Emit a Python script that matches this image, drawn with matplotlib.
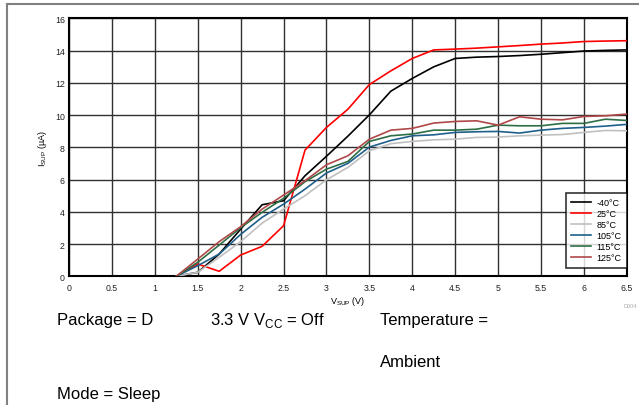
import matplotlib
matplotlib.use('Agg')
import matplotlib.pyplot as plt
from matplotlib.lines import Line2D

plt.rcParams['font.family'] = ['Liberation Sans', 'DejaVu Sans']
plt.rcParams['mathtext.fontset'] = 'custom'
plt.rcParams['mathtext.rm'] = 'Liberation Sans'

# supply voltage (V)
v_sup = [1.25, 1.5, 1.75, 2.0, 2.25, 2.5, 2.75, 3.0, 3.25, 3.5, 3.75, 4.0,
         4.25, 4.5, 4.75, 5.0, 5.25, 5.5, 5.75, 6.0, 6.25, 6.5]

# supply current (uA) per temperature
i_m40 = [0.0, 0.25, 1.38, 2.93, 4.44, 4.69, 6.24, 7.45, 8.7, 10.02, 11.49, 12.28,
         13.0, 13.52, 13.6, 13.64, 13.7, 13.78, 13.88, 13.98, 14.02, 14.05]
i_25 = [0.0, 0.76, 0.31, 1.32, 1.86, 3.14, 7.83, 9.24, 10.37, 11.9, 12.75, 13.52,
        14.05, 14.1, 14.16, 14.24, 14.32, 14.41, 14.48, 14.57, 14.6, 14.62]
i_85 = [0.0, 0.25, 1.18, 2.15, 3.3, 4.17, 5.0, 5.99, 6.76, 7.79, 8.23, 8.37,
        8.47, 8.51, 8.62, 8.64, 8.72, 8.76, 8.80, 8.93, 9.05, 9.03]
i_105 = [0.0, 0.66, 1.38, 2.6, 3.66, 4.48, 5.41, 6.41, 7.01, 8.02, 8.43, 8.72,
         8.78, 8.93, 8.97, 8.99, 8.89, 9.07, 9.18, 9.24, 9.32, 9.43]
i_115 = [0.0, 0.87, 1.94, 3.02, 3.97, 4.84, 5.87, 6.65, 7.13, 8.37, 8.72, 8.83,
         9.07, 9.07, 9.13, 9.38, 9.34, 9.34, 9.49, 9.49, 9.75, 9.67]
i_125 = [0.0, 1.07, 2.15, 3.08, 4.17, 5.04, 5.93, 6.92, 7.48, 8.51, 9.07, 9.18,
         9.51, 9.61, 9.65, 9.38, 9.9, 9.75, 9.71, 9.92, 9.96, 10.07]

labels = ['-40°C', '25°C', '85°C', '105°C', '115°C', '125°C']
colors = ['#000000', '#ff0000', '#c0c0c0', '#1f5f8b', '#2e6e46', '#b04848']
series = [i_m40, i_25, i_85, i_105, i_115, i_125]

x_ticks = [0, 0.5, 1, 1.5, 2, 2.5, 3, 3.5, 4, 4.5, 5, 5.5, 6, 6.5]
y_ticks = [0, 2, 4, 6, 8, 10, 12, 14, 16]

fig = plt.figure(figsize=(6.39, 4.06), dpi=100)
ax = fig.add_axes([0.108, 0.317, 0.873, 0.635])

for ys, c, lab in zip(series, colors, labels):
    ax.plot(v_sup, ys, color=c, lw=1.2, label=lab, zorder=3)

ax.set_xlim(0, 6.5)
ax.set_ylim(0, 16)
ax.set_xticks(x_ticks)
ax.set_xticklabels(['0', '0.5', '1', '1.5', '2', '2.5', '3', '3.5', '4', '4.5',
                    '5', '5.5', '6', '6.5'])
ax.set_yticks(y_ticks)
ax.tick_params(length=0, labelsize=6.3, colors='#222222')
ax.tick_params(axis='y', pad=3)
ax.tick_params(axis='x', pad=5)
ax.grid(True, color='#303030', lw=1.0, zorder=1)
for s in ax.spines.values():
    s.set_linewidth(1.5)
    s.set_color('black')

ax.set_xlabel(r'V$_{\mathregular{SUP}}$ (V)', fontsize=6.5, labelpad=1)
ax.set_ylabel(r'I$_{\mathregular{SUP}}$ (µA)', fontsize=6.5, labelpad=4)

leg = ax.legend(loc='lower right', fontsize=6.5, frameon=True, fancybox=False,
                borderaxespad=0, handlelength=2.2, handletextpad=0.6,
                labelspacing=0.22, borderpad=0.6, bbox_to_anchor=(1.0, 0.033))
leg.get_frame().set_edgecolor('black')
leg.get_frame().set_linewidth(1.2)
leg.set_zorder(5)

fig.text(0.975, 0.242, 'D004', fontsize=4, color='#aaaaaa')

# notes under the chart
fig.text(57 / 639, 1 - 320 / 406, 'Package = D', fontsize=12, va='center')
fig.text(210 / 639, 1 - 320 / 406, r'3.3 V V$_{\mathregular{CC}}$ = Off',
         fontsize=12, va='center')
fig.text(380 / 639, 1 - 320 / 406, 'Temperature =', fontsize=12, va='center')
fig.text(380 / 639, 1 - 363 / 406, 'Ambient', fontsize=12, va='center')
fig.text(57 / 639, 1 - 395 / 406, 'Mode = Sleep', fontsize=12, va='center')

# cell border
fig.add_artist(Line2D([7 / 639, 1.0], [1 - 5 / 406, 1 - 5 / 406],
                      color='#808080', lw=1.5, transform=fig.transFigure))
fig.add_artist(Line2D([7 / 639, 7 / 639], [0, 1 - 5 / 406],
                      color='#808080', lw=1.5, transform=fig.transFigure))

fig.savefig('out.png', dpi=100)
